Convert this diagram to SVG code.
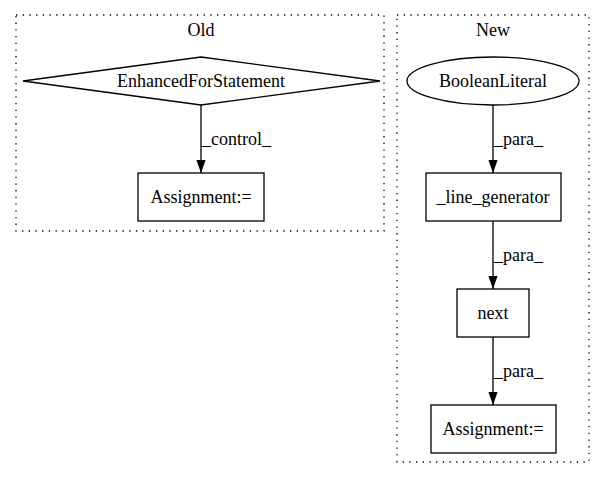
<svg xmlns="http://www.w3.org/2000/svg" width="605" height="480" viewBox="0 0 605 480">
<style>
text{font-family:"Liberation Serif","Times New Roman",serif;font-size:18px;fill:#000}
.c{text-anchor:middle}
.cl{fill:none;stroke:#000;stroke-width:1.3;stroke-dasharray:1.3,5.4}
.n{fill:#fff;stroke:#000;stroke-width:1.3}
.e{stroke:#000;stroke-width:1.3;fill:none}
</style>
<defs>
<marker id="a" markerWidth="13" markerHeight="10" refX="13" refY="5" orient="auto" markerUnits="userSpaceOnUse">
<path d="M0,0.4 L13,5 L0,9.6 Z" fill="#000"/>
</marker>
</defs>
<rect width="605" height="480" fill="#fff"/>
<g id="cluster_old">
<rect class="cl" x="16" y="15" width="368" height="216"/>
<text class="c" x="201" y="36">Old</text>
</g>
<g id="cluster_new">
<rect class="cl" x="397" y="15" width="192" height="447"/>
<text class="c" x="493" y="36">New</text>
</g>
<g id="connectors">
<line class="e" x1="201" y1="105" x2="201" y2="173" marker-end="url(#a)"/>
<text x="202" y="145">_control_</text>
<line class="e" x1="493" y1="105" x2="493" y2="173" marker-end="url(#a)"/>
<text x="494" y="145">_para_</text>
<line class="e" x1="493" y1="221" x2="493" y2="289" marker-end="url(#a)"/>
<text x="494" y="261">_para_</text>
<line class="e" x1="493" y1="337" x2="493" y2="405" marker-end="url(#a)"/>
<text x="494" y="377">_para_</text>
</g>
<g id="EnhancedForStatement">
<polygon class="n" points="201,57 380,81 201,105 23,81"/>
<text class="c" x="201" y="87">EnhancedForStatement</text>
</g>
<g id="Assignment_old">
<rect class="n" x="138" y="173" width="126" height="48"/>
<text class="c" x="201" y="203">Assignment:=</text>
</g>
<g id="BooleanLiteral">
<ellipse class="n" cx="493" cy="81" rx="86" ry="24"/>
<text class="c" x="493" y="87">BooleanLiteral</text>
</g>
<g id="line_generator">
<rect class="n" x="426" y="173" width="135" height="48"/>
<text class="c" x="493" y="203">_line_generator</text>
</g>
<g id="next">
<rect class="n" x="457" y="289" width="72" height="48"/>
<text class="c" x="493" y="319">next</text>
</g>
<g id="Assignment_new">
<rect class="n" x="431" y="405" width="125" height="48"/>
<text class="c" x="493" y="435">Assignment:=</text>
</g>
</svg>
